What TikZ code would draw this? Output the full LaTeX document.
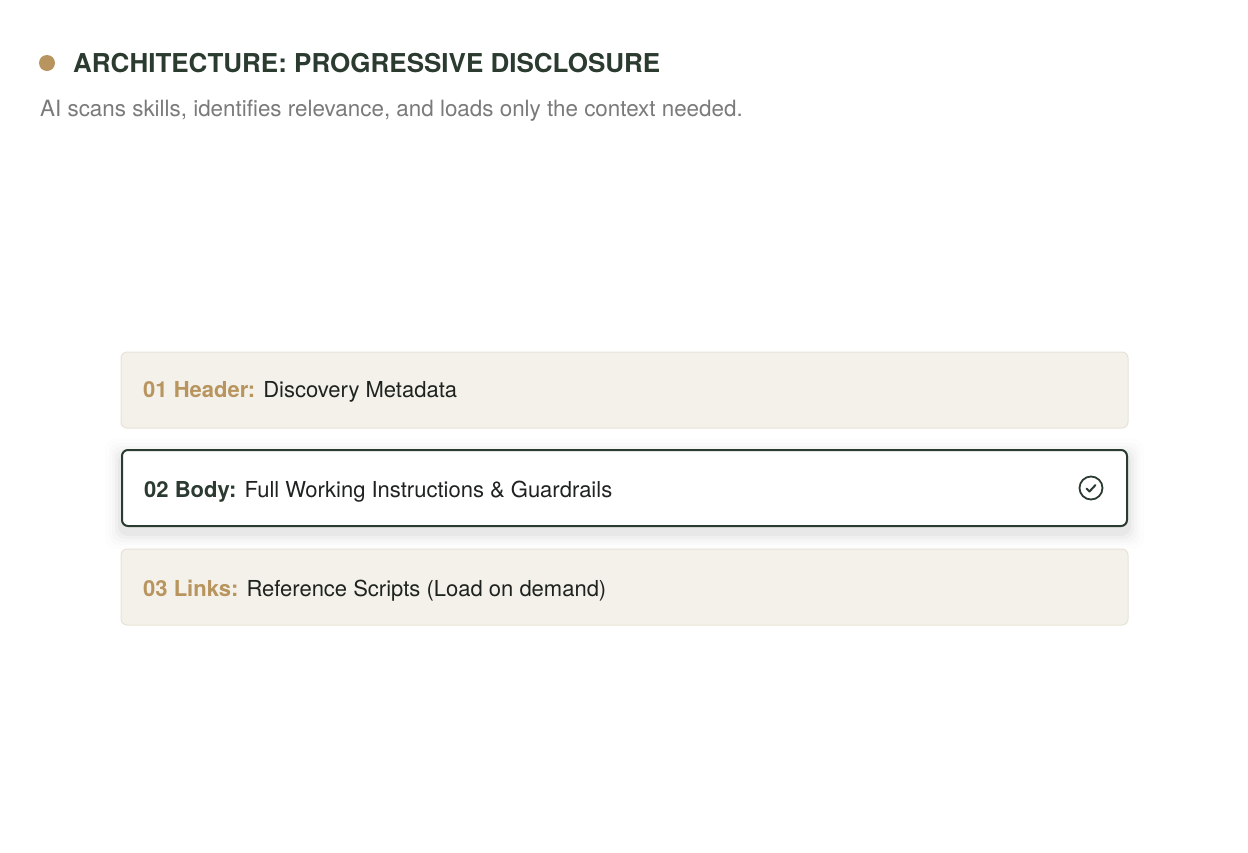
\documentclass[tikz,border=0pt]{standalone}
\usepackage{fontspec}
\setmainfont{TeX Gyre Heros}
\usetikzlibrary{positioning}
\definecolor{gold}{HTML}{B8955E}
\definecolor{forest}{HTML}{2B3B30}
\definecolor{subgray}{HTML}{7A7A7A}
\definecolor{cream}{HTML}{F4F1EA}
\definecolor{creamline}{HTML}{E8E3D8}
\definecolor{ink}{HTML}{1E231F}
\tikzset{
  card/.style={draw=creamline, line width=1pt, fill=cream, rounded corners=6pt},
  activecard/.style={draw=forest, line width=2pt, fill=white, rounded corners=6pt},
  cardtext/.style={anchor=base west, inner sep=0pt, font=\fontsize{22}{26}\selectfont, text=ink},
  title/.style={anchor=base west, inner sep=0pt, font=\fontsize{26}{30}\selectfont\bfseries, text=forest},
  subtitle/.style={anchor=base west, inner sep=0pt, font=\fontsize{22.4}{26}\selectfont, text=subgray},
}
\begin{document}
\begin{tikzpicture}[x=1pt,y=-1pt]
\useasboundingbox (0,0) rectangle (1248,852);
\fill[white] (0,0) rectangle (1248,852);
% header
\fill[gold] (47,63) circle (8);
\node[title] (title) at (73,72.5) {ARCHITECTURE: PROGRESSIVE DISCLOSURE};
\node[subtitle] (sub) at (40,116) {AI scans skills, identifies relevance, and loads only the context needed.};
% card 1
\draw[card] (121,352) rectangle (1128,428);
\node[cardtext] (t1) at (143,397) {\textcolor{gold}{\bfseries 01 Header:} Discovery Metadata};
% card 2 shadow
\foreach \i/\o in {16/0.008,12/0.012,9/0.016,6/0.022,3/0.03}{
  \fill[black, opacity=\o, rounded corners=10pt] (121-\i,449-\i+6) rectangle (1128+\i,527+\i+6);
}
\draw[activecard] (122,450) rectangle (1127,526);
\node[cardtext] (t2) at (144,497) {\textcolor{forest}{\bfseries 02 Body:} Full Working Instructions \& Guardrails};
\draw[forest, line width=1.8pt] (1091,488) circle (11.5);
\draw[forest, line width=2pt, line cap=round, line join=round] (1086.5,488.5) -- (1089.5,491.5) -- (1095.5,485);
% card 3
\draw[card] (121,549) rectangle (1128,625);
\node[cardtext] (t3) at (143,596) {\textcolor{gold}{\bfseries 03 Links:} Reference Scripts (Load on demand)};
\end{tikzpicture}
\end{document}
